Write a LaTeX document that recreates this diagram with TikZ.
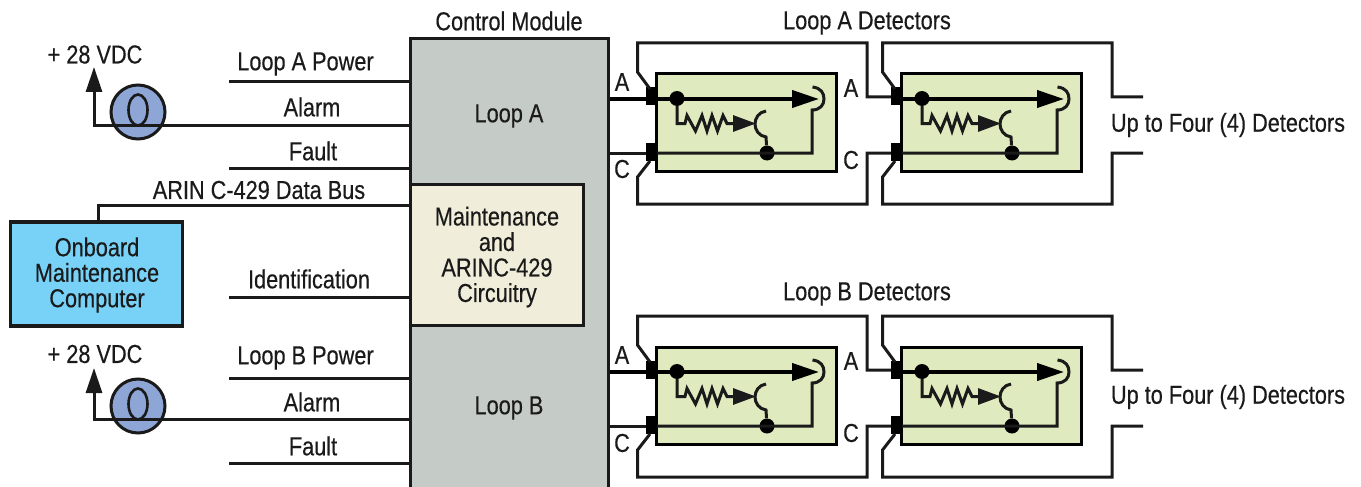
\documentclass[tikz,border=0pt]{standalone}
\usepackage{fontspec}
\setmainfont[FakeStretch=0.835,FakeBold=0.4]{Liberation Sans}
\usetikzlibrary{arrows.meta,shapes.geometric}
\definecolor{ctrlgray}{HTML}{C5CBC7}
\definecolor{maintcream}{HTML}{F0EEDA}
\definecolor{detgreen}{HTML}{DFEBBE}
\definecolor{omcblue}{HTML}{78D2F8}
\definecolor{coilblue}{HTML}{8EA6D6}
\definecolor{ink}{HTML}{1A1A1A}
\tikzset{
  x=1pt,y=-1pt,
  txt/.style={inner sep=0pt,text=ink,font=\fontsize{26}{25.5}\selectfont,align=center},
  wire/.style={draw=ink,line width=3pt,line join=miter},
  thickwire/.style={draw=black,line width=4pt},
  thinwire/.style={draw=ink,line width=3pt,line join=miter},
  module/.style={draw=ink,line width=3pt,inner sep=0pt},
  terminal/.style={fill=black,inner sep=0pt,minimum width=11pt,minimum height=18pt},
  jdot/.style={circle,fill=black,inner sep=0pt,minimum size=15pt},
  bighead/.style={-{Triangle[length=27pt,width=17pt]}},
  smallhead/.style={-{Triangle[length=23pt,width=16pt]}},
  uphead/.style={-{Triangle[length=25pt,width=16pt]}},
}
% one detector: #1 name, #2 dx, #3 dy
\newcommand{\detectorunit}[3]{%
\begin{scope}[shift={(#2,#3)}]
  \node[draw=black,line width=3pt,fill=detgreen,inner sep=0pt,minimum width=180pt,minimum height=97pt] (#1box) at (746,122.5) {};
  \node[terminal] (#1A) at (651.5,96.5) {};
  \node[terminal] (#1C) at (651.5,152) {};
  \node[jdot] (#1da) at (677,98.5) {};
  \node[jdot] (#1dc) at (767,153) {};
  \coordinate (#1Ain) at (657,99);
  \coordinate (#1Cin) at (657,153);
  \coordinate (#1Atip) at (819,99);
  \coordinate (#1Rtip) at (756,123.5);
  \coordinate (#1Ad) at (650,89);
  \coordinate (#1Aa) at (637.5,72);
  \coordinate (#1Ab) at (637.5,43);
  \coordinate (#1Ac) at (867,43);
  \coordinate (#1Ae) at (867,97);
  \coordinate (#1Cd) at (650,161);
  \coordinate (#1Ca) at (637.5,177);
  \coordinate (#1Cb) at (637.5,204);
  \coordinate (#1Cc) at (867,204);
  \coordinate (#1Ce) at (867,153);
  \coordinate (#1lineA) at (646,99);
  \coordinate (#1lineC) at (646,153);
  \draw[thickwire,bighead] (#1Ain) -- (#1Atip);
  \draw[thinwire] (#1Cin) -- (812,153) -- (812,110)
     .. controls (820,110) and (824,105) .. (824,99)
     .. controls (824,93) and (821,88) .. (812.5,87);
  \draw[thinwire] (#1da) -- (677,123.5) -- (685,123.5) -- (687,115.5) -- (695.5,131) -- (702,115.5) -- (707,131) -- (712,115.5) -- (717.5,131) -- (723,115.5) -- (727,123.5) -- (733,123.5);
  \draw[thinwire,smallhead] (732,123.5) -- (#1Rtip);
  \draw[thinwire] (#1dc) -- (766,137)
     .. controls (759,136) and (755,130) .. (755,124)
     .. controls (755,118) and (759,112) .. (766,111);
\end{scope}}
% the two outer wires of a detector, ending at #2 and #3
\newcommand{\outerwires}[3]{%
  \draw[wire] (#1Ad) -- (#1Aa) -- (#1Ab) -- (#1Ac) -- (#1Ae) -- (#2);
  \draw[wire] (#1Cd) -- (#1Ca) -- (#1Cb) -- (#1Cc) -- (#1Ce) -- (#3);}
% sense coil
\newcommand{\coilunit}[2]{%
\begin{scope}[shift={(0,#2)}]
  \node[circle,draw=ink,line width=3pt,fill=coilblue,inner sep=0pt,minimum size=54pt] (#1) at (138,112) {};
  \node[ellipse,draw=ink,line width=2.6pt,inner sep=0pt,minimum width=19pt,minimum height=31pt] (#1loop) at (138,110) {};
\end{scope}}
\begin{document}
\begin{tikzpicture}
\useasboundingbox (0,0) rectangle (1361,487);
\clip (0,0) rectangle (1361,487);

% control module
\node[module,fill=ctrlgray,minimum width=198pt,minimum height=460pt] (ctrl) at (509,269) {};
\node[module,fill=maintcream,minimum width=173pt,minimum height=141pt] (maint) at (496.5,254.5) {};
\node[txt] (maintt) at (497,257) {Maintenance\\and\\ARINC-429\\Circuitry};
\node[txt] (ctrlt) at (509,21) {Control Module};
\node[txt] (loopa) at (509,116) {Loop A};
\node[txt] (loopb) at (509,408) {Loop B};

% onboard computer
\node[module,line width=3.2pt,draw=ink,fill=omcblue,minimum width=172pt,minimum height=104pt] (omc) at (96.7,274) {};
\node[txt] (omct) at (97,275) {Onboard\\Maintenance\\Computer};

% left side free ends
\coordinate (lapw) at (229,82);
\coordinate (laft) at (229,168);
\coordinate (idw) at (229,297);
\coordinate (lbpw) at (229,378);
\coordinate (lbft) at (229,463);
\coordinate (busc) at (98,205);
\coordinate (aca) at (94,125);
\coordinate (acb) at (94,419);
\coordinate (atipa) at (94,67);
\coordinate (atipb) at (94,368);

\draw[wire] (lapw) -- (lapw -| ctrl.west);
\draw[wire] (laft) -- (laft -| ctrl.west);
\draw[wire] (idw) -- (idw -| ctrl.west);
\draw[wire] (lbpw) -- (lbpw -| ctrl.west);
\draw[wire] (lbft) -- (lbft -| ctrl.west);
\draw[wire] (omc.north -| busc) -- (busc) -- (busc -| ctrl.west);

\coilunit{coila}{0}
\coilunit{coilb}{294}
\draw[wire] (aca -| ctrl.west) -- (aca) -- (94,90);
\draw[wire] (acb -| ctrl.west) -- (acb) -- (94,390);
\draw[wire,uphead,line width=3pt] (94,92) -- (atipa);
\draw[wire,uphead,line width=3pt] (94,393) -- (atipb);

\node[txt] (vdca) at (95,54.5) {+ 28 VDC};
\node[txt] (vdcb) at (95,354) {+ 28 VDC};
\node[txt] (t1) at (305.5,64) {Loop A Power};
\node[txt] (t2) at (312,107) {Alarm};
\node[txt] (t3) at (313,151) {Fault};
\node[txt] (t4) at (259,190) {ARIN C-429 Data Bus};
\node[txt] (t5) at (309,279) {Identification};
\node[txt] (t6) at (305.5,358) {Loop B Power};
\node[txt] (t7) at (312,402) {Alarm};
\node[txt] (t8) at (313,446) {Fault};

% detectors
\detectorunit{aa}{0}{0}
\detectorunit{ab}{245}{0}
\detectorunit{ba}{0}{273}
\detectorunit{bb}{245}{273}

\coordinate (aoa) at (1143,97);
\coordinate (aoc) at (1143,153);
\coordinate (boa) at (1143,370);
\coordinate (boc) at (1143,426);

\outerwires{aa}{abA.west |- aaAe}{abC.west |- aaCe}
\outerwires{ab}{aoa}{aoc}
\outerwires{ba}{bbA.west |- baAe}{bbC.west |- baCe}
\outerwires{bb}{boa}{boc}

\draw[thickwire] (ctrl.east |- aalineA) -- (aaA.west |- aalineA);
\draw[thinwire] (ctrl.east |- aalineC) -- (aaC.west |- aalineC);
\draw[thickwire] (ctrl.east |- balineA) -- (baA.west |- balineA);
\draw[thinwire] (ctrl.east |- balineC) -- (baC.west |- balineC);

\node[txt] (la1) at (622,82) {A};
\node[txt] (lc1) at (622,169) {C};
\node[txt] (la2) at (851,88) {A};
\node[txt] (lc2) at (851,160) {C};
\node[txt] (la3) at (622,355) {A};
\node[txt] (lc3) at (622,443) {C};
\node[txt] (la4) at (851,361) {A};
\node[txt] (lc4) at (851,433) {C};

\node[txt] (detat) at (867,23) {Loop A Detectors};
\node[txt] (detbt) at (867,294) {Loop B Detectors};
\node[txt] (upa) at (1228,125) {Up to Four (4) Detectors};
\node[txt] (upb) at (1228,397) {Up to Four (4) Detectors};
\end{tikzpicture}
\end{document}
